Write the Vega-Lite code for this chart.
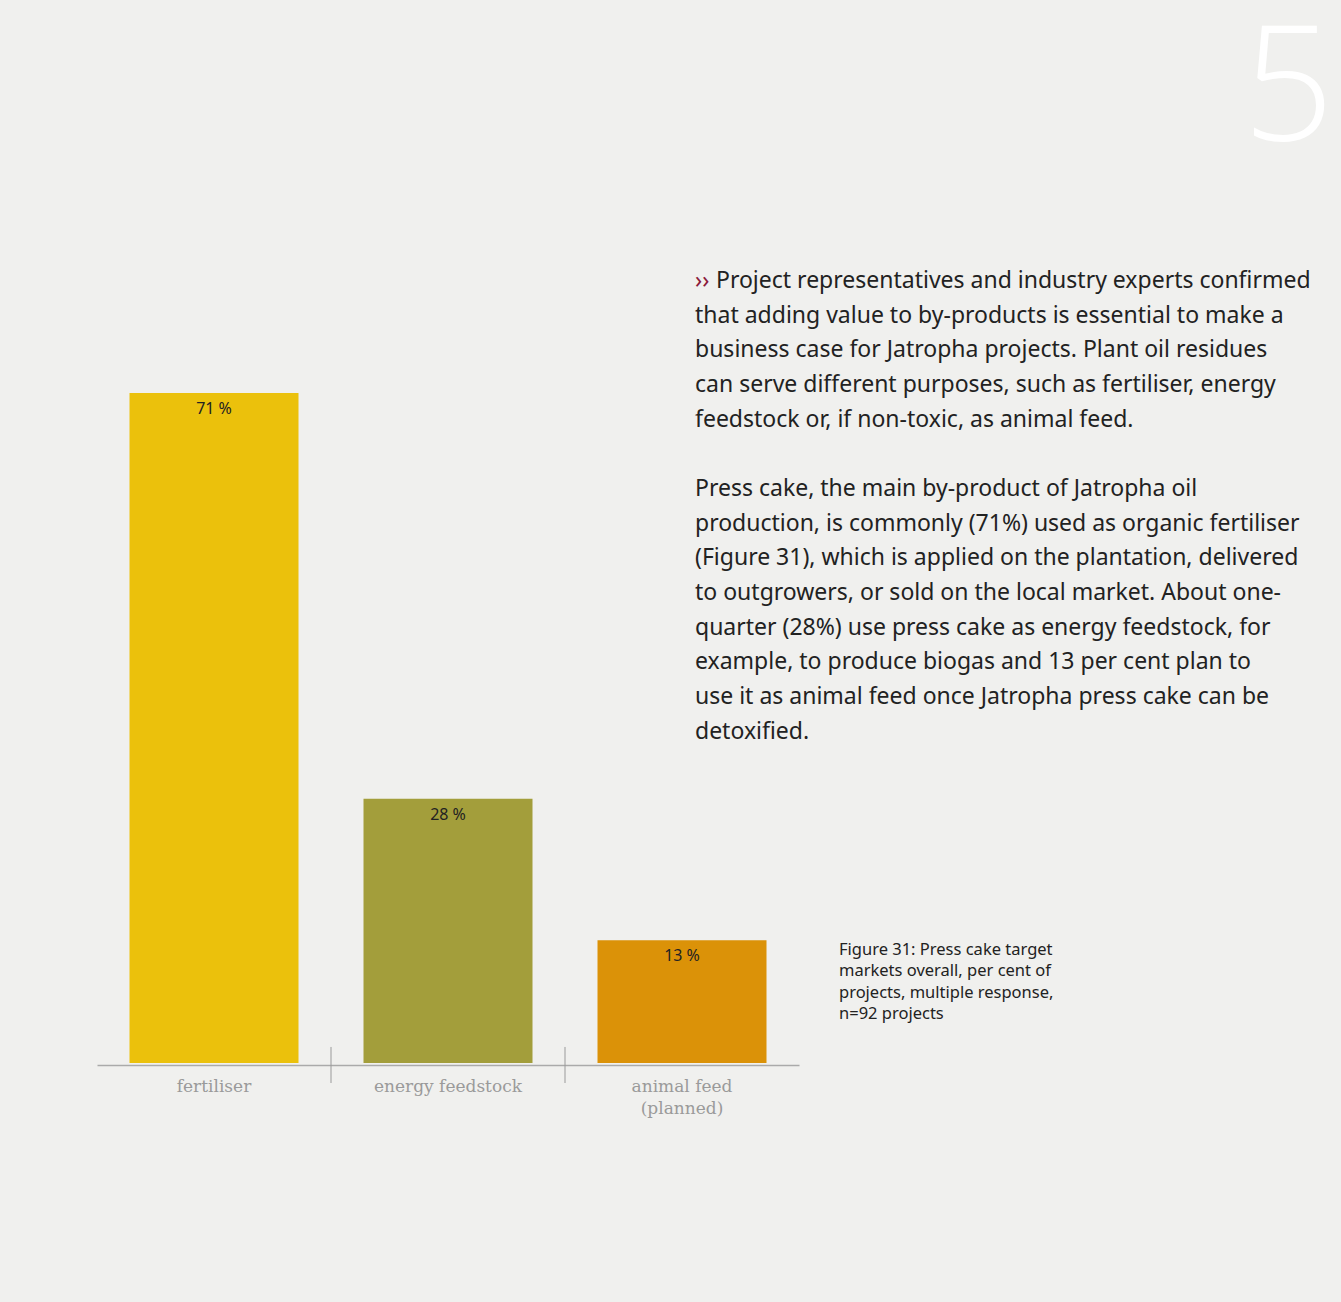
{
  "$schema": "https://vega.github.io/schema/vega-lite/v6.json",
  "width": 1341,
  "height": 1302,
  "autosize": "none",
  "padding": 0,
  "background": "#f0f0ee",
  "config": {"view": {"stroke": null}},
  "datasets": {
    "bars": [
      {"cat": "fertiliser", "pct": 71, "label": "71 %"},
      {"cat": "energy feedstock", "pct": 28, "label": "28 %"},
      {"cat": "animal feed (planned)", "pct": 13, "label": "13 %"}
    ]
  },
  "data": {"name": "bars"},
  "layer": [
    {
      "mark": {"type": "bar", "width": {"band": 0.7222}},
      "encoding": {
        "x": {
          "field": "cat", "type": "nominal", "sort": null,
          "scale": {"domain": ["fertiliser", "energy feedstock", "animal feed (planned)"], "range": [97, 799], "paddingInner": 0, "paddingOuter": 0},
          "axis": {
            "title": null, "orient": "bottom", "offset": -237,
            "domainColor": "#aaaaaa", "domainWidth": 1.5, "ticks": false, "grid": false,
            "labelAngle": 0, "labelFont": "DejaVu Serif", "labelFontSize": 17,
            "labelColor": "#9a9a9a", "labelPadding": 13, "labelLineHeight": 22,
            "labelExpr": "datum.value == 'animal feed (planned)' ? ['animal feed', '(planned)'] : datum.label"
          }
        },
        "y": {
          "field": "pct", "type": "quantitative",
          "scale": {"domain": [0, 71], "range": [1063, 393], "nice": false, "zero": true},
          "axis": null
        },
        "color": {
          "field": "cat", "type": "nominal",
          "scale": {"domain": ["fertiliser", "energy feedstock", "animal feed (planned)"], "range": ["#ebc10c", "#a39e3b", "#db9208"]},
          "legend": null
        }
      }
    },
    {
      "mark": {"type": "text", "baseline": "alphabetic", "dy": 21, "font": "Noto Sans", "fontSize": 16, "color": "#222222"},
      "encoding": {
        "x": {"field": "cat", "type": "nominal", "sort": null},
        "y": {"field": "pct", "type": "quantitative"},
        "text": {"field": "label"}
      }
    },
    {
      "transform": [{"filter": "datum.cat != 'fertiliser'"}],
      "mark": {"type": "rule", "color": "#9a9a9a", "strokeWidth": 1},
      "encoding": {
        "x": {"field": "cat", "type": "nominal", "sort": null, "bandPosition": 0},
        "y": {"datum": 1.7},
        "y2": {"datum": -2.12}
      }
    },
    {
      "data": {"values": [{"t": "››"}]},
      "mark": {"type": "text", "align": "left", "baseline": "top", "font": "Noto Sans", "fontSize": 23, "color": "#8b1a3a"},
      "encoding": {"text": {"field": "t"}, "x": {"value": 695}, "y": {"value": 270}}
    },
    {
      "data": {"values": [{"t": "Project representatives and industry experts confirmed"}]},
      "mark": {"type": "text", "align": "left", "baseline": "top", "font": "Noto Sans", "fontSize": 23, "color": "#222222"},
      "encoding": {"text": {"field": "t"}, "x": {"value": 716}, "y": {"value": 270}}
    },
    {
      "data": {"values": [{"t": [
        "that adding value to by-products is essential to make a",
        "business case for Jatropha projects. Plant oil residues",
        "can serve different purposes, such as fertiliser, energy",
        "feedstock or, if non-toxic, as animal feed."
      ]}]},
      "mark": {"type": "text", "align": "left", "baseline": "top", "font": "Noto Sans", "fontSize": 23, "lineHeight": 34.67, "color": "#222222"},
      "encoding": {"text": {"field": "t"}, "x": {"value": 695}, "y": {"value": 304.67}}
    },
    {
      "data": {"values": [{"t": [
        "Press cake, the main by-product of Jatropha oil",
        "production, is commonly (71%) used as organic fertiliser",
        "(Figure 31), which is applied on the plantation, delivered",
        "to outgrowers, or sold on the local market. About one-",
        "quarter (28%) use press cake as energy feedstock, for",
        "example, to produce biogas and 13 per cent plan to",
        "use it as animal feed once Jatropha press cake can be",
        "detoxified."
      ]}]},
      "mark": {"type": "text", "align": "left", "baseline": "top", "font": "Noto Sans", "fontSize": 23, "lineHeight": 34.67, "color": "#222222"},
      "encoding": {"text": {"field": "t"}, "x": {"value": 695}, "y": {"value": 478}}
    },
    {
      "data": {"values": [{"t": [
        "Figure 31: Press cake target",
        "markets overall, per cent of",
        "projects, multiple response,",
        "n=92 projects"
      ]}]},
      "mark": {"type": "text", "align": "left", "baseline": "top", "font": "Noto Sans", "fontSize": 16.5, "lineHeight": 21.3, "color": "#222222"},
      "encoding": {"text": {"field": "t"}, "x": {"value": 839}, "y": {"value": 942}}
    },
    {
      "data": {"values": [{"t": "5"}]},
      "mark": {"type": "text", "align": "right", "baseline": "alphabetic", "font": "Open Sans", "fontWeight": 300, "fontSize": 160, "color": "#ffffff"},
      "encoding": {"text": {"field": "t"}, "x": {"value": 1334}, "y": {"value": 140}}
    }
  ]
}
